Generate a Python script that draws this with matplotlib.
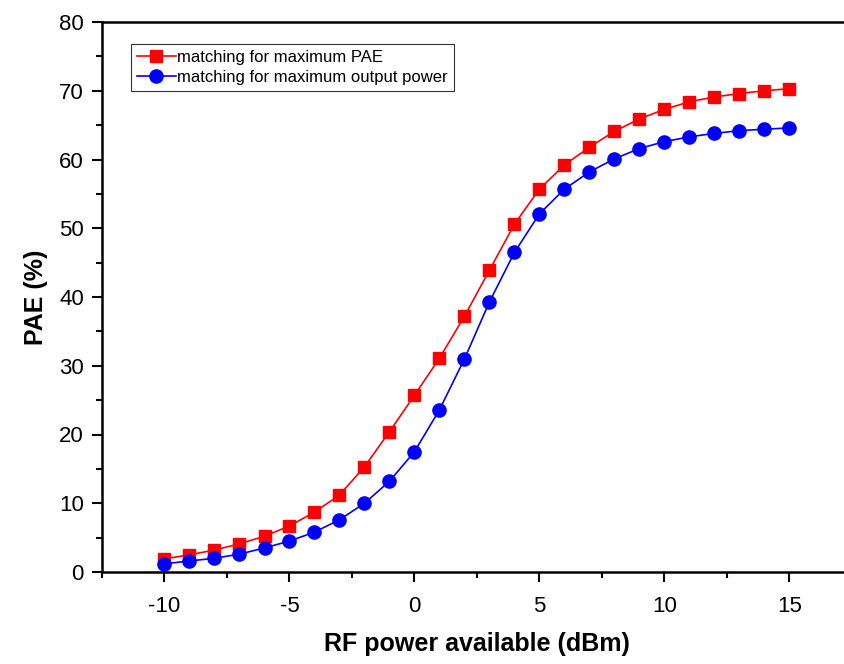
import numpy as np
import matplotlib
matplotlib.use("Agg")
from matplotlib import pyplot as plt
from matplotlib.ticker import MultipleLocator

plt.rcParams['font.family'] = ['Liberation Sans', 'DejaVu Sans']
plt.rcParams['axes.unicode_minus'] = False

#-------------------------- datos ---------------------------------
rf_power = list(range(-10, 16))
pae_max_pae = [1.9, 2.5, 3.2, 4.1, 5.2, 6.7, 8.7, 11.2, 15.3, 20.4, 25.7, 31.1, 37.2,
               43.9, 50.6, 55.7, 59.2, 61.8, 64.1, 65.9, 67.3, 68.4, 69.1, 69.6, 70.0, 70.3]
pae_max_pout = [1.2, 1.6, 2.0, 2.6, 3.5, 4.5, 5.8, 7.6, 10.0, 13.2, 17.5, 23.6, 31.0,
                39.3, 46.5, 52.1, 55.7, 58.2, 60.1, 61.6, 62.6, 63.3, 63.8, 64.2, 64.4, 64.6]
labels = ['matching for maximum PAE', 'matching for maximum output power']

fig = plt.figure(figsize=(8.45, 6.64), dpi=100)
ax = fig.add_axes([102/845, 92/664, 750/845, 550/664])

ax.plot(rf_power, pae_max_pae, color='#ff0000', marker='s', markersize=8.5, lw=1.2, label=labels[0])
ax.plot(rf_power, pae_max_pout, color='#0000ff', marker='o', markersize=9.5, lw=1.2, label=labels[1])

ax.set_xlim(-12.5, 17.5)
ax.set_ylim(0, 80)
ax.xaxis.set_major_locator(MultipleLocator(5))
ax.xaxis.set_minor_locator(MultipleLocator(2.5))
ax.yaxis.set_major_locator(MultipleLocator(10))
ax.yaxis.set_minor_locator(MultipleLocator(5))
ax.tick_params(which='both', direction='out', width=1.5, labelsize=16, top=False, right=False)
ax.tick_params(which='major', length=7)
ax.tick_params(which='minor', length=4)
ax.tick_params(axis='x', pad=10)
ax.tick_params(axis='y', pad=6)
for s in ax.spines.values():
    s.set_linewidth(1.8)

ax.set_xlabel('RF power available (dBm)', fontsize=18, fontweight='bold', labelpad=11)
ax.set_ylabel('PAE (%)', fontsize=18, fontweight='bold', labelpad=8)

leg = ax.legend(loc='upper left', bbox_to_anchor=(0.028, 0.975), fontsize=12, frameon=True,
                fancybox=False, edgecolor='black', handlelength=2.3, handletextpad=0.1,
                borderpad=0.35, labelspacing=0.3)
leg.get_frame().set_linewidth(0.8)

fig.savefig('out.png', dpi=100)
